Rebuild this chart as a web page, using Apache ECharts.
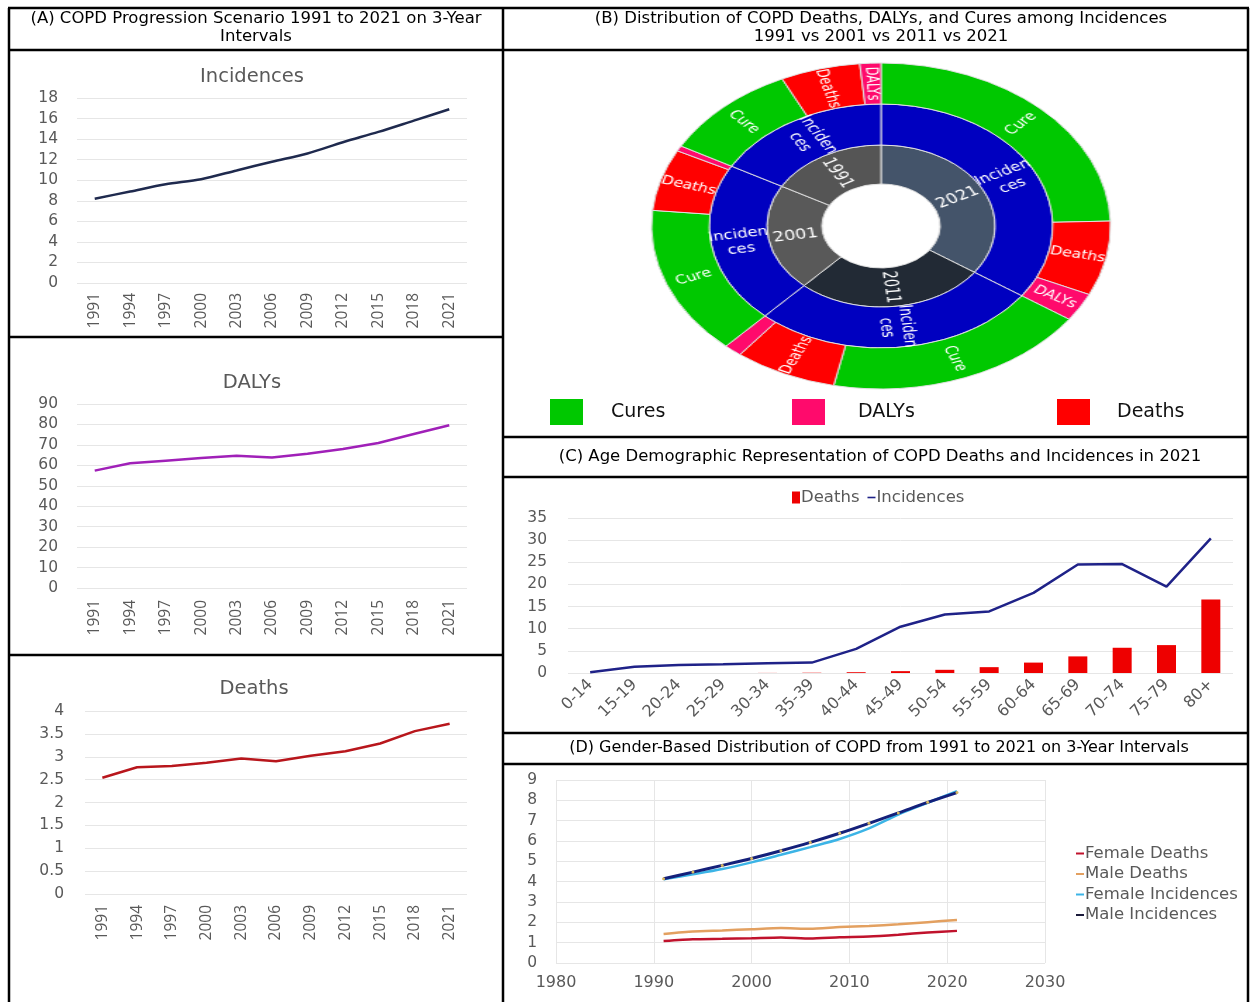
<!DOCTYPE html>
<html>
<head>
<meta charset="utf-8">
<script src="https://cdn.jsdelivr.net/npm/echarts@6/dist/echarts.min.js"></script>
<style>
  html, body { margin: 0; padding: 0; background: #fff; }
  #main { position: absolute; left: 0; top: 0; width: 1250px; height: 1002px; }
  #ring { position: absolute; left: 711px; top: 56px; width: 340px; height: 340px;
          transform: scaleX(1.408); transform-origin: 50% 50%; }
</style>
</head>
<body>
<div id="main"></div>
<div id="ring"></div>
<script>
// ---- (A) yearly series, 1991-2021 on 3-year steps ----
const years = ['1991', '1994', '1997', '2000', '2003', '2006', '2009', '2012', '2015', '2018', '2021'];
const incidences = [8.2, 8.9, 9.6, 10.1, 10.95, 11.8, 12.6, 13.7, 14.7, 15.8, 16.9];
const dalys = [57.4, 61.0, 62.3, 63.6, 64.7, 63.8, 65.7, 68.0, 70.9, 75.3, 79.6];
const deaths = [2.54, 2.77, 2.80, 2.87, 2.96, 2.90, 3.02, 3.12, 3.29, 3.56, 3.72];
const incidenceTicks = { min: 0, max: 18, step: 2 };
const dalyTicks = { min: 0, max: 90, step: 10 };
const deathTicks = { min: 0, max: 4, step: 0.5 };

// ---- (B) split of incidences per year ----
const ringYears = ['2021', '2011', '2001', '1991'];
const ringCure = [11.94, 9.06, 7.17, 4.75];
const ringDeaths = [3.60, 3.52, 2.97, 2.73];
const ringDalys = [1.36, 0.62, 0.26, 0.72];

// ---- (C) age groups in 2021 ----
const ageGroups = ['0-14', '15-19', '20-24', '25-29', '30-34', '35-39', '40-44', '45-49',
                   '50-54', '55-59', '60-64', '65-69', '70-74', '75-79', '80+'];
const ageDeaths = [0, 0, 0, 0, 0.02, 0.06, 0.18, 0.42, 0.72, 1.32, 2.35, 3.75, 5.7, 6.3, 16.6];
const ageIncidences = [0.15, 1.4, 1.8, 1.95, 2.2, 2.35, 5.45, 10.45, 13.2, 13.9, 18.1, 24.5, 24.6, 19.5, 30.4];

// ---- (D) by gender ----
const genderYears = [1991, 1994, 1997, 2000, 2003, 2006, 2009, 2012, 2015, 2018, 2021];
const femaleDeaths = [1.08, 1.17, 1.19, 1.22, 1.26, 1.21, 1.27, 1.30, 1.39, 1.50, 1.58];
const maleDeaths = [1.43, 1.55, 1.60, 1.66, 1.72, 1.68, 1.77, 1.82, 1.90, 2.01, 2.12];
const femaleIncidences = [4.12, 4.36, 4.62, 4.95, 5.32, 5.70, 6.10, 6.62, 7.30, 7.88, 8.45];
const maleIncidences = [4.14, 4.47, 4.80, 5.14, 5.52, 5.93, 6.38, 6.87, 7.38, 7.90, 8.38];

const FONT = '"DejaVu Sans", "Open Sans", sans-serif';
const NARROW = '"Open Sans", "Noto Sans", sans-serif';
const GREY = '#595959';
const GRID_LINE = '#e6e6e6';

function pairs(xs, ys) { return xs.map((x, i) => [x, ys[i]]); }

function yearAxis(gridIndex, margin) {
  return {
    type: 'category', gridIndex, data: years, boundaryGap: true,
    axisLine: { show: false }, axisTick: { show: false },
    axisLabel: { rotate: 90, margin, fontSize: 15.5, color: GREY, fontFamily: NARROW, interval: 0 }
  };
}
function valueAxis(gridIndex, t, margin) {
  return {
    type: 'value', gridIndex, min: t.min, max: t.max, interval: t.step,
    axisLine: { show: false }, axisTick: { show: false },
    splitLine: { lineStyle: { color: GRID_LINE, width: 1 } },
    axisLabel: { margin, fontSize: 15.5, color: GREY, fontFamily: FONT }
  };
}

// frame lines around the panels
function hline(x1, x2, y) {
  return { type: 'line', silent: true, z: 100, shape: { x1, y1: y, x2, y2: y }, style: { stroke: '#000', lineWidth: 2.5 } };
}
function vline(x, y1, y2) {
  return { type: 'line', silent: true, z: 100, shape: { x1: x, y1, x2: x, y2 }, style: { stroke: '#000', lineWidth: 2.5 } };
}
function label(text, x, y, size, fill, lineHeight) {
  return { type: 'text', silent: true, z: 100,
    style: { text, x, y, fill, font: size + 'px ' + FONT, align: 'center', verticalAlign: 'middle', lineHeight: lineHeight || size } };
}
function swatch(x, color, text, tx) {
  return [
    { type: 'rect', silent: true, shape: { x, y: 399, width: 33, height: 26 }, style: { fill: color } },
    { type: 'text', silent: true, style: { text, x: tx, y: 412, fill: '#111', font: '19px ' + FONT, align: 'left', verticalAlign: 'middle' } }
  ];
}

const graphics = [
  hline(8, 1249, 8), vline(9, 8, 1002), vline(503, 8, 1002), vline(1248, 8, 1002),
  hline(9, 503, 50), hline(9, 503, 337), hline(9, 503, 655),
  hline(503, 1248, 50), hline(503, 1248, 437), hline(503, 1248, 477),
  hline(503, 1248, 733), hline(503, 1248, 764),
  label('(A) COPD Progression Scenario 1991 to 2021 on 3-Year\nIntervals', 256, 28, 16.5, '#000', 18),
  label('(B) Distribution of COPD Deaths, DALYs, and Cures among Incidences\n1991 vs 2001 vs 2011 vs 2021', 881, 28, 16.5, '#000', 18),
  label('(C) Age Demographic Representation of COPD Deaths and Incidences in 2021', 880, 457, 16.5, '#000'),
  label('(D) Gender-Based Distribution of COPD from 1991 to 2021 on 3-Year Intervals', 879, 748, 16, '#000'),
  label('Incidences', 252, 77, 19.5, GREY),
  label('DALYs', 252, 383, 19.5, GREY),
  label('Deaths', 254, 689, 19.5, GREY)
].concat(swatch(550, '#00c800', 'Cures', 611), swatch(792, '#ff0a6c', 'DALYs', 858), swatch(1057, '#ff0000', 'Deaths', 1117));

const main = echarts.init(document.getElementById('main'), null, { renderer: 'canvas' });
main.setOption({
  animation: false,
  backgroundColor: '#fff',
  textStyle: { fontFamily: FONT },
  grid: [
    { left: 77, top: 98, width: 390, height: 185 },
    { left: 77, top: 404, width: 390, height: 184 },
    { left: 85, top: 711, width: 382, height: 183 },
    { left: 568, top: 518, width: 665, height: 155 },
    { left: 556, top: 780, width: 489, height: 183 }
  ],
  xAxis: [
    yearAxis(0, 10), yearAxis(1, 12), yearAxis(2, 11),
    { type: 'category', gridIndex: 3, data: ageGroups, boundaryGap: true,
      axisLine: { show: false }, axisTick: { show: false },
      axisLabel: { rotate: 45, margin: 9, interval: 0, fontSize: 16, color: GREY, fontFamily: FONT } },
    { type: 'value', gridIndex: 4, min: 1980, max: 2030, interval: 10,
      axisLine: { show: false }, axisTick: { show: false },
      splitLine: { show: true, lineStyle: { color: GRID_LINE } },
      axisLabel: { margin: 12, fontSize: 16, color: GREY, fontFamily: FONT, formatter: v => String(v) } }
  ],
  yAxis: [
    valueAxis(0, incidenceTicks, 19), valueAxis(1, dalyTicks, 19), valueAxis(2, deathTicks, 21),
    valueAxis(3, { min: 0, max: 35, step: 5 }, 21),
    valueAxis(4, { min: 0, max: 9, step: 1 }, 19)
  ],
  legend: [
    { top: 484, left: 787, itemGap: 8, itemWidth: 8, itemHeight: 12,
      textStyle: { fontSize: 16.5, color: GREY, fontFamily: FONT, padding: [0, 0, 0, -4] },
      data: [{ name: 'Deaths', icon: 'rect' }, { name: 'Incidences', icon: 'path://M0,0H10V2H0Z' }] },
    { orient: 'vertical', left: 1071, top: 840, itemGap: 3.5, itemWidth: 8, itemHeight: 2,
      textStyle: { fontSize: 16.5, lineHeight: 16.5, color: GREY, fontFamily: FONT, padding: [0, 0, 0, -4] }, icon: 'rect',
      data: ['Female Deaths', 'Male Deaths', 'Female Incidences',
             { name: 'Male Incidences', itemStyle: { color: '#1a1a3a' } }] }
  ],
  series: [
    { name: 'Incidences A', type: 'line', xAxisIndex: 0, yAxisIndex: 0, data: incidences, smooth: 0.3,
      showSymbol: false, lineStyle: { color: '#1f2a4e', width: 2.5 } },
    { name: 'DALYs A', type: 'line', xAxisIndex: 1, yAxisIndex: 1, data: dalys,
      showSymbol: false, lineStyle: { color: '#a020b8', width: 2.5 } },
    { name: 'Deaths A', type: 'line', xAxisIndex: 2, yAxisIndex: 2, data: deaths,
      showSymbol: false, lineStyle: { color: '#b8161c', width: 2.5 } },
    { name: 'Deaths', type: 'bar', xAxisIndex: 3, yAxisIndex: 3, data: ageDeaths, barWidth: 19,
      itemStyle: { color: '#ee0000' } },
    { name: 'Incidences', type: 'line', xAxisIndex: 3, yAxisIndex: 3, data: ageIncidences,
      showSymbol: false, itemStyle: { color: '#1f2288' }, lineStyle: { color: '#1f2288', width: 2.5 } },
    { name: 'Female Deaths', type: 'line', xAxisIndex: 4, yAxisIndex: 4, data: pairs(genderYears, femaleDeaths),
      showSymbol: false, smooth: 0.2, itemStyle: { color: '#c0122c' }, lineStyle: { color: '#c0122c', width: 2.5 } },
    { name: 'Male Deaths', type: 'line', xAxisIndex: 4, yAxisIndex: 4, data: pairs(genderYears, maleDeaths),
      showSymbol: false, smooth: 0.2, itemStyle: { color: '#e3a060' }, lineStyle: { color: '#e3a060', width: 2.5 } },
    { name: 'Female Incidences', type: 'line', xAxisIndex: 4, yAxisIndex: 4, data: pairs(genderYears, femaleIncidences),
      showSymbol: false, smooth: 0.3, itemStyle: { color: '#3cb4e6' }, lineStyle: { color: '#3cb4e6', width: 2.5 } },
    { name: 'Male Incidences', type: 'line', xAxisIndex: 4, yAxisIndex: 4, data: pairs(genderYears, maleIncidences),
      smooth: 0.3, symbol: 'circle', symbolSize: 3, itemStyle: { color: '#d8b860' },
      lineStyle: { color: '#14207a', width: 3 } }
  ],
  graphic: graphics
});

// ---- (B) sunburst of outcomes among incidences ----
const yearColors = ['#44546a', '#222a35', '#595959', '#555555'];
const RING_FONT = '"Liberation Sans Narrow", "DejaVu Sans Condensed", "Open Sans", sans-serif';
const ringData = ringYears.map((y, i) => ({
  name: y,
  itemStyle: { color: yearColors[i] },
  children: [{
    name: 'Incidences',
    itemStyle: { color: '#0000c0' },
    children: [
      { name: 'Cure', value: ringCure[i], itemStyle: { color: '#00c800' } },
      { name: 'Deaths', value: ringDeaths[i], itemStyle: { color: '#ff0000' } },
      { name: 'DALYs', value: ringDalys[i], itemStyle: { color: '#ff0a6c' } }
    ]
  }]
}));

const ring = echarts.init(document.getElementById('ring'), null, { renderer: 'canvas' });
ring.setOption({
  animation: false,
  series: [{
    type: 'sunburst',
    center: ['50%', '50%'],
    radius: [42, 163],
    sort: null,
    startAngle: 90,
    clockwise: true,
    nodeClick: false,
    data: ringData,
    itemStyle: { borderColor: '#e0e0e0', borderWidth: 1 },
    label: { rotate: 'radial', color: '#fff', fontFamily: RING_FONT },
    levels: [
      {},
      { r0: 42, r: 81, label: { fontSize: 14 } },
      { r0: 81, r: 122, label: { fontSize: 13, lineHeight: 15,
          formatter: p => p.name.slice(0, 7) + '\n' + p.name.slice(7) } },
      { r0: 122, r: 163, label: { fontSize: 12.5, minAngle: 5 } }
    ]
  }]
});
</script>
</body>
</html>
